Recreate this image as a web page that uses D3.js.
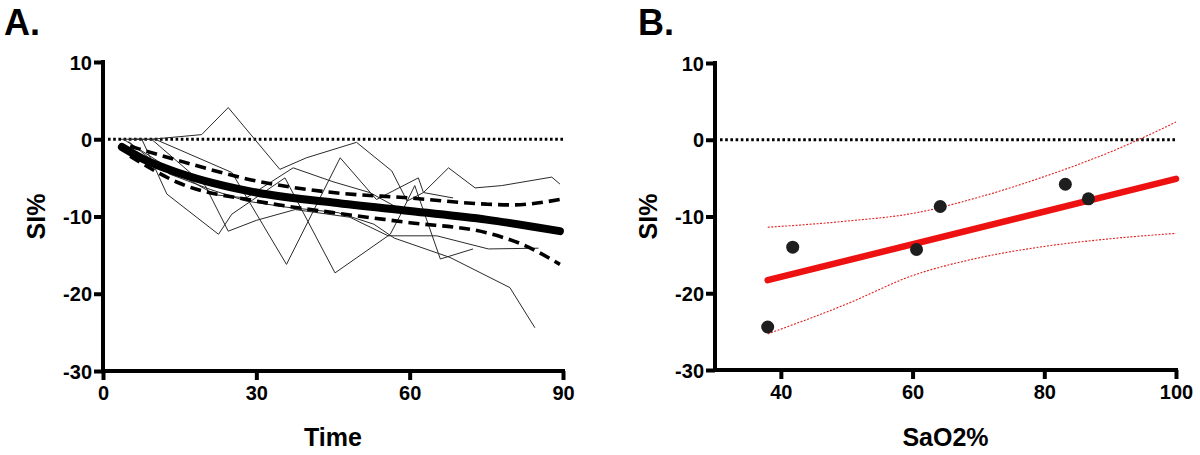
<!DOCTYPE html>
<html>
<head>
<meta charset="utf-8">
<script src="https://cdn.jsdelivr.net/npm/d3@7"></script>
<style>
  html, body { margin: 0; padding: 0; background: #fff; }
  svg { display: block; }
  text { font-family: "Liberation Sans", Arial, Helvetica, sans-serif; font-weight: bold; fill: #000; }
</style>
</head>
<body>
<svg id="chart" width="1200" height="455"></svg>
<script>
// ---------- Panel A data ----------
const timeTicks = [0, 30, 60, 90];
const siTicks = [-30, -20, -10, 0, 10];

// individual subjects: [time, SI%]
const subject1 = [[3.5,0],[9.5,0],[19.3,0.6],[24.5,4.1],[34.6,-3.9],[39.8,-2.4],[49.6,-0.4],[56.5,-4.1],[59.5,-8.0],[62.7,-6.9],[68.5,-7.6]];
const subject2 = [[5,0],[7.6,0],[12.5,-7.1],[22.6,-12.3],[25.2,-9.7],[35.6,-5.0],[45.4,-17.3],[56.2,-12.3],[58.1,-9.9],[61,-6.0],[66,-15.5],[72.4,-14.2]];
const subject3 = [[6,0],[10.2,0],[25.2,-4.3],[35.9,-16.2],[46.4,-2.4],[53.5,-7.8],[61.7,-5.0],[62.7,-6.9],[67.6,-3.7],[72.8,-6.3],[78,-6.0],[87.8,-4.9],[89.4,-5.8]];
const subject4 = [[9.5,0],[20,-6.0],[24.5,-11.9],[30,-10.5],[37.6,-9.1],[48.3,-10.1],[55.8,-12.5],[65.3,-12.5],[75.4,-14.2],[85.2,-14.1]];
const subject5 = [[4,0],[14,-4.2],[22,-7.2],[28,-7.6],[37.2,-3.7],[45,-5.5],[52.2,-6.9],[58,-9.0]];
const subject6 = [[5,-0.3],[13,-4.5],[21,-6.5],[28,-8.0],[36,-8.8],[46,-9.5],[53,-11.0],[57,-12.8],[67.9,-15.3],[79.6,-19.2],[84.5,-24.4]];
const subjects = [subject1, subject2, subject3, subject4, subject5, subject6];

// fitted mean curve and its confidence band
const fitCurve = [[3.7,-1.0],[8,-2.6],[15,-4.4],[30,-6.9],[45,-8.2],[60,-9.3],[75,-10.4],[89.4,-11.9]];
const fitUpper = [[5.3,-0.9],[15,-2.8],[30,-5.4],[45,-6.9],[60,-7.6],[75,-8.4],[80,-8.5],[89.4,-7.8]];
const fitLower = [[5.3,-2.2],[15,-5.7],[30,-8.0],[45,-9.5],[60,-10.8],[75,-12.1],[82,-13.6],[89.4,-16.2]];

// ---------- Panel B data ----------
const sao2Ticks = [40, 60, 80, 100];
const sao2 = [38.0, 41.8, 60.6, 64.2, 83.2, 86.7];
const siB  = [-24.4, -14.0, -14.3, -8.7, -5.8, -7.7];
const regLine = [[38,-18.3],[100,-5.1]];
const bandUpper = [[38,-11.4],[50,-10.6],[60,-9.6],[70,-7.5],[80,-4.8],[90,-1.6],[100,2.3]];
const bandLower = [[38,-25.3],[50,-21.4],[60,-17.7],[70,-15.4],[80,-13.9],[90,-12.9],[100,-12.2]];

// ---------- drawing ----------
const svg = d3.select("#chart");
const fmt = d => String(d);

function drawAxes(g, x, y, xTicks, xLabel) {
  const yAxis = d3.axisLeft(y).tickValues(siTicks).tickFormat(fmt).tickSize(9).tickSizeOuter(0).tickPadding(2);
  const xAxis = d3.axisBottom(x).tickValues(xTicks).tickFormat(fmt).tickSize(9).tickSizeOuter(0).tickPadding(5);
  const gy = g.append("g").attr("transform", `translate(${x.range()[0]},0)`).call(yAxis);
  const gx = g.append("g").attr("transform", `translate(0,${y.range()[0]})`).call(xAxis);
  [gx, gy].forEach(a => {
    a.select(".domain").attr("stroke", "#000").attr("stroke-width", 4);
    a.selectAll(".tick line").attr("stroke", "#000").attr("stroke-width", 4);
    a.selectAll(".tick text").style("font-size", "20px").style("font-weight", "bold")
      .style("font-family", "'Liberation Sans', Arial, sans-serif").attr("fill", "#000");
  });
  gy.select(".domain").attr("d", `M0,${y.range()[1]-2}V${y.range()[0]+2}`);
  gx.select(".domain").attr("d", `M${x.range()[0]-2},0H${x.range()[1]+2}`);
  gy.selectAll(".tick text").attr("dy", "0.36em");
  gx.selectAll(".tick text").attr("dy", "0.75em");
  g.append("text").attr("x", (x.range()[0] + x.range()[1]) / 2).attr("y", 446)
    .attr("text-anchor", "middle").style("font-size", "25px").text(xLabel);
  g.append("text").attr("transform", `translate(${x.range()[0]-58},${y(-10)}) rotate(-90)`)
    .attr("text-anchor", "middle").style("font-size", "25px").text("SI%");
  g.append("line").attr("x1", x.range()[0] + 5).attr("x2", x.range()[1])
    .attr("y1", y(0)).attr("y2", y(0))
    .attr("stroke", "#000").attr("stroke-width", 3).attr("stroke-dasharray", "2.6,2.6");
}

// Panel A
const xA = d3.scaleLinear().domain([0, 90]).range([103, 563]);
const yA = d3.scaleLinear().domain([-30, 10]).range([371, 62]);
const gA = svg.append("g");
drawAxes(gA, xA, yA, timeTicks, "Time");

const lineA = d3.line().x(d => xA(d[0])).y(d => yA(d[1]));
gA.selectAll(".subj").data(subjects).enter().append("path")
  .attr("class", "subj").attr("d", lineA)
  .attr("fill", "none").attr("stroke", "#2a2a2a").attr("stroke-width", 1);

const smoothA = d3.line().x(d => xA(d[0])).y(d => yA(d[1])).curve(d3.curveMonotoneX);
[fitUpper, fitLower].forEach(band => {
  gA.append("path").attr("d", smoothA(band)).attr("fill", "none")
    .attr("stroke", "#000").attr("stroke-width", 3.6).attr("stroke-dasharray", "11,6");
});
gA.append("path").attr("d", smoothA(fitCurve)).attr("fill", "none")
  .attr("stroke", "#000").attr("stroke-width", 8).attr("stroke-linecap", "round");

gA.append("text").attr("x", 4).attr("y", 35).style("font-size", "36px").text("A.");

// Panel B
const xB = d3.scaleLinear().domain([30, 100]).range([715, 1176]);
const yB = d3.scaleLinear().domain([-30, 10]).range([370, 63]);
const gB = svg.append("g");
drawAxes(gB, xB, yB, sao2Ticks, "SaO2%");

const smoothB = d3.line().x(d => xB(d[0])).y(d => yB(d[1])).curve(d3.curveMonotoneX);
[bandUpper, bandLower].forEach(band => {
  gB.append("path").attr("d", smoothB(band)).attr("fill", "none")
    .attr("stroke", "#e0201f").attr("stroke-width", 1.1).attr("stroke-dasharray", "2,1.5");
});
gB.append("path").attr("d", smoothB(regLine)).attr("fill", "none")
  .attr("stroke", "#ee1111").attr("stroke-width", 6.5).attr("stroke-linecap", "round");

gB.selectAll(".pt").data(sao2.map((s, i) => [s, siB[i]])).enter().append("circle")
  .attr("class", "pt").attr("cx", d => xB(d[0])).attr("cy", d => yB(d[1])).attr("r", 6.5)
  .attr("fill", "#1e1e1e");

gB.append("text").attr("x", 638).attr("y", 35).style("font-size", "36px").text("B.");
</script>
</body>
</html>
